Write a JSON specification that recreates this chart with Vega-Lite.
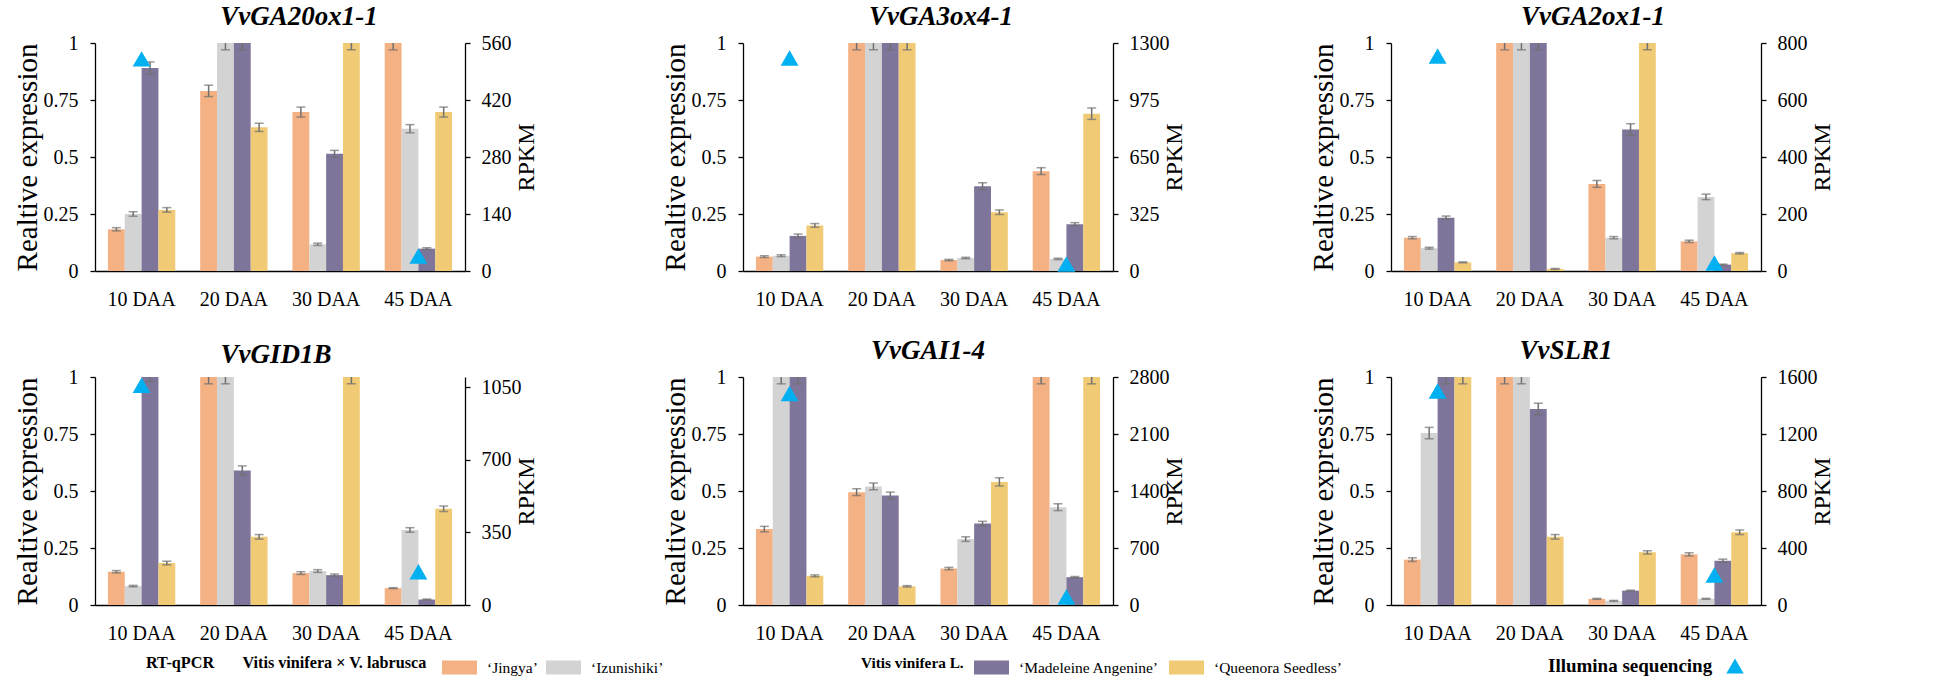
{
  "$schema": "https://vega.github.io/schema/vega-lite/v6.json",
  "padding": {"left": 13, "top": 3, "right": 5, "bottom": 5},
  "background": "white",
  "datasets": {
    "bars": [
      {"gene": "VvGA20ox1-1", "daa": "10 DAA", "cv": "‘Jingya’", "v": 0.183, "e": 0.007},
      {"gene": "VvGA20ox1-1", "daa": "10 DAA", "cv": "‘Izunishiki’", "v": 0.25, "e": 0.01},
      {"gene": "VvGA20ox1-1", "daa": "10 DAA", "cv": "‘Madeleine Angenine’", "v": 0.89, "e": 0.027},
      {"gene": "VvGA20ox1-1", "daa": "10 DAA", "cv": "‘Queenora Seedless’", "v": 0.268, "e": 0.01},
      {"gene": "VvGA20ox1-1", "daa": "20 DAA", "cv": "‘Jingya’", "v": 0.79, "e": 0.025},
      {"gene": "VvGA20ox1-1", "daa": "20 DAA", "cv": "‘Izunishiki’", "v": 1, "e": 0.03},
      {"gene": "VvGA20ox1-1", "daa": "20 DAA", "cv": "‘Madeleine Angenine’", "v": 1, "e": 0.03},
      {"gene": "VvGA20ox1-1", "daa": "20 DAA", "cv": "‘Queenora Seedless’", "v": 0.63, "e": 0.018},
      {"gene": "VvGA20ox1-1", "daa": "30 DAA", "cv": "‘Jingya’", "v": 0.697, "e": 0.022},
      {"gene": "VvGA20ox1-1", "daa": "30 DAA", "cv": "‘Izunishiki’", "v": 0.117, "e": 0.005},
      {"gene": "VvGA20ox1-1", "daa": "30 DAA", "cv": "‘Madeleine Angenine’", "v": 0.514, "e": 0.015},
      {"gene": "VvGA20ox1-1", "daa": "30 DAA", "cv": "‘Queenora Seedless’", "v": 1, "e": 0.03},
      {"gene": "VvGA20ox1-1", "daa": "45 DAA", "cv": "‘Jingya’", "v": 1, "e": 0.03},
      {"gene": "VvGA20ox1-1", "daa": "45 DAA", "cv": "‘Izunishiki’", "v": 0.624, "e": 0.018},
      {"gene": "VvGA20ox1-1", "daa": "45 DAA", "cv": "‘Madeleine Angenine’", "v": 0.098, "e": 0.004},
      {"gene": "VvGA20ox1-1", "daa": "45 DAA", "cv": "‘Queenora Seedless’", "v": 0.697, "e": 0.022},

      {"gene": "VvGA3ox4-1", "daa": "10 DAA", "cv": "‘Jingya’", "v": 0.063, "e": 0.004},
      {"gene": "VvGA3ox4-1", "daa": "10 DAA", "cv": "‘Izunishiki’", "v": 0.067, "e": 0.004},
      {"gene": "VvGA3ox4-1", "daa": "10 DAA", "cv": "‘Madeleine Angenine’", "v": 0.154, "e": 0.008},
      {"gene": "VvGA3ox4-1", "daa": "10 DAA", "cv": "‘Queenora Seedless’", "v": 0.2, "e": 0.008},
      {"gene": "VvGA3ox4-1", "daa": "20 DAA", "cv": "‘Jingya’", "v": 1, "e": 0.03},
      {"gene": "VvGA3ox4-1", "daa": "20 DAA", "cv": "‘Izunishiki’", "v": 1, "e": 0.03},
      {"gene": "VvGA3ox4-1", "daa": "20 DAA", "cv": "‘Madeleine Angenine’", "v": 1, "e": 0.03},
      {"gene": "VvGA3ox4-1", "daa": "20 DAA", "cv": "‘Queenora Seedless’", "v": 1, "e": 0.03},
      {"gene": "VvGA3ox4-1", "daa": "30 DAA", "cv": "‘Jingya’", "v": 0.048, "e": 0.003},
      {"gene": "VvGA3ox4-1", "daa": "30 DAA", "cv": "‘Izunishiki’", "v": 0.057, "e": 0.003},
      {"gene": "VvGA3ox4-1", "daa": "30 DAA", "cv": "‘Madeleine Angenine’", "v": 0.372, "e": 0.015},
      {"gene": "VvGA3ox4-1", "daa": "30 DAA", "cv": "‘Queenora Seedless’", "v": 0.258, "e": 0.01},
      {"gene": "VvGA3ox4-1", "daa": "45 DAA", "cv": "‘Jingya’", "v": 0.438, "e": 0.015},
      {"gene": "VvGA3ox4-1", "daa": "45 DAA", "cv": "‘Izunishiki’", "v": 0.053, "e": 0.003},
      {"gene": "VvGA3ox4-1", "daa": "45 DAA", "cv": "‘Madeleine Angenine’", "v": 0.205, "e": 0.007},
      {"gene": "VvGA3ox4-1", "daa": "45 DAA", "cv": "‘Queenora Seedless’", "v": 0.69, "e": 0.025},

      {"gene": "VvGA2ox1-1", "daa": "10 DAA", "cv": "‘Jingya’", "v": 0.146, "e": 0.005},
      {"gene": "VvGA2ox1-1", "daa": "10 DAA", "cv": "‘Izunishiki’", "v": 0.1, "e": 0.004},
      {"gene": "VvGA2ox1-1", "daa": "10 DAA", "cv": "‘Madeleine Angenine’", "v": 0.234, "e": 0.007},
      {"gene": "VvGA2ox1-1", "daa": "10 DAA", "cv": "‘Queenora Seedless’", "v": 0.038, "e": 0.002},
      {"gene": "VvGA2ox1-1", "daa": "20 DAA", "cv": "‘Jingya’", "v": 1, "e": 0.03},
      {"gene": "VvGA2ox1-1", "daa": "20 DAA", "cv": "‘Izunishiki’", "v": 1, "e": 0.03},
      {"gene": "VvGA2ox1-1", "daa": "20 DAA", "cv": "‘Madeleine Angenine’", "v": 1, "e": 0.03},
      {"gene": "VvGA2ox1-1", "daa": "20 DAA", "cv": "‘Queenora Seedless’", "v": 0.009, "e": 0.002},
      {"gene": "VvGA2ox1-1", "daa": "30 DAA", "cv": "‘Jingya’", "v": 0.382, "e": 0.015},
      {"gene": "VvGA2ox1-1", "daa": "30 DAA", "cv": "‘Izunishiki’", "v": 0.146, "e": 0.005},
      {"gene": "VvGA2ox1-1", "daa": "30 DAA", "cv": "‘Madeleine Angenine’", "v": 0.621, "e": 0.025},
      {"gene": "VvGA2ox1-1", "daa": "30 DAA", "cv": "‘Queenora Seedless’", "v": 1, "e": 0.03},
      {"gene": "VvGA2ox1-1", "daa": "45 DAA", "cv": "‘Jingya’", "v": 0.13, "e": 0.005},
      {"gene": "VvGA2ox1-1", "daa": "45 DAA", "cv": "‘Izunishiki’", "v": 0.325, "e": 0.012},
      {"gene": "VvGA2ox1-1", "daa": "45 DAA", "cv": "‘Madeleine Angenine’", "v": 0.028, "e": 0.002},
      {"gene": "VvGA2ox1-1", "daa": "45 DAA", "cv": "‘Queenora Seedless’", "v": 0.078, "e": 0.003},

      {"gene": "VvGID1B", "daa": "10 DAA", "cv": "‘Jingya’", "v": 0.146, "e": 0.005},
      {"gene": "VvGID1B", "daa": "10 DAA", "cv": "‘Izunishiki’", "v": 0.083, "e": 0.003},
      {"gene": "VvGID1B", "daa": "10 DAA", "cv": "‘Madeleine Angenine’", "v": 1, "e": 0.02},
      {"gene": "VvGID1B", "daa": "10 DAA", "cv": "‘Queenora Seedless’", "v": 0.184, "e": 0.008},
      {"gene": "VvGID1B", "daa": "20 DAA", "cv": "‘Jingya’", "v": 1, "e": 0.03},
      {"gene": "VvGID1B", "daa": "20 DAA", "cv": "‘Izunishiki’", "v": 1, "e": 0.03},
      {"gene": "VvGID1B", "daa": "20 DAA", "cv": "‘Madeleine Angenine’", "v": 0.59, "e": 0.02},
      {"gene": "VvGID1B", "daa": "20 DAA", "cv": "‘Queenora Seedless’", "v": 0.299, "e": 0.01},
      {"gene": "VvGID1B", "daa": "30 DAA", "cv": "‘Jingya’", "v": 0.14, "e": 0.006},
      {"gene": "VvGID1B", "daa": "30 DAA", "cv": "‘Izunishiki’", "v": 0.149, "e": 0.006},
      {"gene": "VvGID1B", "daa": "30 DAA", "cv": "‘Madeleine Angenine’", "v": 0.131, "e": 0.005},
      {"gene": "VvGID1B", "daa": "30 DAA", "cv": "‘Queenora Seedless’", "v": 1, "e": 0.03},
      {"gene": "VvGID1B", "daa": "45 DAA", "cv": "‘Jingya’", "v": 0.074, "e": 0.002},
      {"gene": "VvGID1B", "daa": "45 DAA", "cv": "‘Izunishiki’", "v": 0.329, "e": 0.01},
      {"gene": "VvGID1B", "daa": "45 DAA", "cv": "‘Madeleine Angenine’", "v": 0.024, "e": 0.002},
      {"gene": "VvGID1B", "daa": "45 DAA", "cv": "‘Queenora Seedless’", "v": 0.422, "e": 0.012},

      {"gene": "VvGAI1-4", "daa": "10 DAA", "cv": "‘Jingya’", "v": 0.333, "e": 0.012},
      {"gene": "VvGAI1-4", "daa": "10 DAA", "cv": "‘Izunishiki’", "v": 1, "e": 0.03},
      {"gene": "VvGAI1-4", "daa": "10 DAA", "cv": "‘Madeleine Angenine’", "v": 1, "e": 0.03},
      {"gene": "VvGAI1-4", "daa": "10 DAA", "cv": "‘Queenora Seedless’", "v": 0.128, "e": 0.004},
      {"gene": "VvGAI1-4", "daa": "20 DAA", "cv": "‘Jingya’", "v": 0.495, "e": 0.015},
      {"gene": "VvGAI1-4", "daa": "20 DAA", "cv": "‘Izunishiki’", "v": 0.52, "e": 0.015},
      {"gene": "VvGAI1-4", "daa": "20 DAA", "cv": "‘Madeleine Angenine’", "v": 0.48, "e": 0.015},
      {"gene": "VvGAI1-4", "daa": "20 DAA", "cv": "‘Queenora Seedless’", "v": 0.082, "e": 0.003},
      {"gene": "VvGAI1-4", "daa": "30 DAA", "cv": "‘Jingya’", "v": 0.16, "e": 0.005},
      {"gene": "VvGAI1-4", "daa": "30 DAA", "cv": "‘Izunishiki’", "v": 0.289, "e": 0.01},
      {"gene": "VvGAI1-4", "daa": "30 DAA", "cv": "‘Madeleine Angenine’", "v": 0.357, "e": 0.01},
      {"gene": "VvGAI1-4", "daa": "30 DAA", "cv": "‘Queenora Seedless’", "v": 0.54, "e": 0.018},
      {"gene": "VvGAI1-4", "daa": "45 DAA", "cv": "‘Jingya’", "v": 1, "e": 0.03},
      {"gene": "VvGAI1-4", "daa": "45 DAA", "cv": "‘Izunishiki’", "v": 0.429, "e": 0.015},
      {"gene": "VvGAI1-4", "daa": "45 DAA", "cv": "‘Madeleine Angenine’", "v": 0.122, "e": 0.003},
      {"gene": "VvGAI1-4", "daa": "45 DAA", "cv": "‘Queenora Seedless’", "v": 1, "e": 0.03},

      {"gene": "VvSLR1", "daa": "10 DAA", "cv": "‘Jingya’", "v": 0.199, "e": 0.008},
      {"gene": "VvSLR1", "daa": "10 DAA", "cv": "‘Izunishiki’", "v": 0.754, "e": 0.025},
      {"gene": "VvSLR1", "daa": "10 DAA", "cv": "‘Madeleine Angenine’", "v": 1, "e": 0.03},
      {"gene": "VvSLR1", "daa": "10 DAA", "cv": "‘Queenora Seedless’", "v": 1, "e": 0.03},
      {"gene": "VvSLR1", "daa": "20 DAA", "cv": "‘Jingya’", "v": 1, "e": 0.03},
      {"gene": "VvSLR1", "daa": "20 DAA", "cv": "‘Izunishiki’", "v": 1, "e": 0.03},
      {"gene": "VvSLR1", "daa": "20 DAA", "cv": "‘Madeleine Angenine’", "v": 0.86, "e": 0.025},
      {"gene": "VvSLR1", "daa": "20 DAA", "cv": "‘Queenora Seedless’", "v": 0.299, "e": 0.01},
      {"gene": "VvSLR1", "daa": "30 DAA", "cv": "‘Jingya’", "v": 0.027, "e": 0.002},
      {"gene": "VvSLR1", "daa": "30 DAA", "cv": "‘Izunishiki’", "v": 0.018, "e": 0.002},
      {"gene": "VvSLR1", "daa": "30 DAA", "cv": "‘Madeleine Angenine’", "v": 0.063, "e": 0.002},
      {"gene": "VvSLR1", "daa": "30 DAA", "cv": "‘Queenora Seedless’", "v": 0.231, "e": 0.007},
      {"gene": "VvSLR1", "daa": "45 DAA", "cv": "‘Jingya’", "v": 0.222, "e": 0.007},
      {"gene": "VvSLR1", "daa": "45 DAA", "cv": "‘Izunishiki’", "v": 0.027, "e": 0.002},
      {"gene": "VvSLR1", "daa": "45 DAA", "cv": "‘Madeleine Angenine’", "v": 0.194, "e": 0.007},
      {"gene": "VvSLR1", "daa": "45 DAA", "cv": "‘Queenora Seedless’", "v": 0.319, "e": 0.01}
    ],
    "tri": [
      {"gene": "VvGA20ox1-1", "daa": "10 DAA", "method": "Illumina sequencing", "rpkm": 521},
      {"gene": "VvGA20ox1-1", "daa": "45 DAA", "method": "Illumina sequencing", "rpkm": 37},
      {"gene": "VvGA3ox4-1", "daa": "10 DAA", "method": "Illumina sequencing", "rpkm": 1214},
      {"gene": "VvGA3ox4-1", "daa": "45 DAA", "method": "Illumina sequencing", "rpkm": 40},
      {"gene": "VvGA2ox1-1", "daa": "10 DAA", "method": "Illumina sequencing", "rpkm": 754},
      {"gene": "VvGA2ox1-1", "daa": "45 DAA", "method": "Illumina sequencing", "rpkm": 28},
      {"gene": "VvGID1B", "daa": "10 DAA", "method": "Illumina sequencing", "rpkm": 1060},
      {"gene": "VvGID1B", "daa": "45 DAA", "method": "Illumina sequencing", "rpkm": 160},
      {"gene": "VvGAI1-4", "daa": "10 DAA", "method": "Illumina sequencing", "rpkm": 2596},
      {"gene": "VvGAI1-4", "daa": "45 DAA", "method": "Illumina sequencing", "rpkm": 99},
      {"gene": "VvSLR1", "daa": "10 DAA", "method": "Illumina sequencing", "rpkm": 1501},
      {"gene": "VvSLR1", "daa": "45 DAA", "method": "Illumina sequencing", "rpkm": 211}
    ]
  },
  "columns": 3,
  "spacing": {"row": 106, "column": 278},
  "bounds": "flush",
  "concat": [
    {
      "width": 370, "height": 228,
      "title": {"text": "VvGA20ox1-1", "dx": 19},
      "layer": [
        {
          "data": {"name": "bars"},
          "transform": [{"filter": {"field": "gene", "equal": "VvGA20ox1-1"}}],
          "encoding": {
            "x": {"field": "daa", "type": "nominal", "sort": null, "scale": {"domain": ["10 DAA", "20 DAA", "30 DAA", "45 DAA"], "paddingInner": 0.27, "paddingOuter": 0.14}, "axis": {"title": null, "labelAngle": 0, "ticks": false, "tickSize": 0, "labelPadding": 18}},
            "xOffset": {"field": "cv", "type": "nominal", "scale": {"domain": ["‘Jingya’", "‘Izunishiki’", "‘Madeleine Angenine’", "‘Queenora Seedless’"], "paddingInner": 0, "paddingOuter": 0}},
            "y": {"field": "v", "type": "quantitative", "scale": {"domain": [0, 1], "nice": false}, "axis": {"title": "Realtive expression", "values": [0, 0.25, 0.5, 0.75, 1], "labelExpr": "'' + datum.value", "tickSize": 5, "labelPadding": 12, "titleFontSize": 29, "titlePadding": 1}}
          },
          "layer": [
            {"transform": [{"filter": {"field": "cv", "oneOf": ["‘Jingya’", "‘Izunishiki’"]}}], "mark": {"type": "bar"},
             "encoding": {"fill": {"field": "cv", "type": "nominal", "scale": {"domain": ["‘Jingya’", "‘Izunishiki’"], "range": ["#f4b183", "#d3d3d3"]},
               "legend": {"orient": "none", "legendX": 51, "legendY": 607, "direction": "horizontal", "title": "RT-qPCR\u00a0\u00a0\u00a0\u00a0\u00a0\u00a0\u00a0Vitis vinifera × V. labrusca", "titleOrient": "left", "titleAnchor": "middle", "titleBaseline": "middle", "titleFontSize": 16.2, "titlePadding": 15, "titleLimit": 600, "symbolType": "M-1,-0.4H1V0.4H-1Z", "symbolSize": 1225, "symbolStrokeWidth": 0, "labelOffset": 10, "columnPadding": 8}}}},
            {"transform": [{"filter": {"field": "cv", "oneOf": ["‘Madeleine Angenine’", "‘Queenora Seedless’"]}}], "mark": {"type": "bar"},
             "encoding": {"color": {"field": "cv", "type": "nominal", "scale": {"domain": ["‘Madeleine Angenine’", "‘Queenora Seedless’"], "range": ["#7f7499", "#f0ca74"]},
               "legend": {"orient": "none", "legendX": 766, "legendY": 607, "direction": "horizontal", "title": "Vitis vinifera L.", "titleOrient": "left", "titleAnchor": "middle", "titleBaseline": "middle", "titleFontSize": 15.3, "titlePadding": 10, "titleLimit": 600, "symbolType": "M-1,-0.4H1V0.4H-1Z", "symbolSize": 1225, "symbolStrokeWidth": 0, "labelOffset": 10, "columnPadding": 10}}}},
            {"mark": {"type": "errorbar", "color": "#707070", "ticks": true, "size": 9, "thickness": 1.5, "clip": true}, "encoding": {"yError": {"field": "e"}}}
          ]
        },
        {
          "data": {"name": "tri"},
          "transform": [{"filter": {"field": "gene", "equal": "VvGA20ox1-1"}}],
          "mark": {"type": "point", "filled": true, "color": "#00b0f0", "opacity": 1, "size": 320},
          "encoding": {
            "x": {"field": "daa", "type": "nominal", "sort": null, "scale": {"domain": ["10 DAA", "20 DAA", "30 DAA", "45 DAA"], "paddingInner": 0.27, "paddingOuter": 0.14}},
            "y": {"field": "rpkm", "type": "quantitative", "scale": {"domain": [0, 560], "nice": false}, "axis": {"orient": "right", "title": "RPKM", "values": [0, 140, 280, 420, 560], "format": "d", "tickSize": 5, "labelPadding": 11, "titleFontSize": 24, "titleAngle": 270, "titleBaseline": "top", "titleX": 49}},
            "shape": {"field": "method", "type": "nominal", "scale": {"domain": ["Illumina sequencing"], "range": ["triangle-up"]},
              "legend": {"orient": "none", "legendX": 1453, "legendY": 614, "direction": "horizontal", "title": "Illumina sequencing", "titleOrient": "left", "titleAnchor": "middle", "titleBaseline": "middle", "titleFontSize": 19, "titlePadding": 13, "titleLimit": 600, "symbolSize": 300, "symbolFillColor": "#00b0f0", "symbolStrokeWidth": 0, "labelExpr": "''"}}
          }
        }
      ],
      "resolve": {"scale": {"y": "independent"}}
    },
    {
      "width": 370, "height": 228,
      "title": {"text": "VvGA3ox4-1", "dx": 13},
      "layer": [
        {
          "data": {"name": "bars"},
          "transform": [{"filter": {"field": "gene", "equal": "VvGA3ox4-1"}}],
          "encoding": {
            "x": {"field": "daa", "type": "nominal", "sort": null, "scale": {"domain": ["10 DAA", "20 DAA", "30 DAA", "45 DAA"], "paddingInner": 0.27, "paddingOuter": 0.14}, "axis": {"title": null, "labelAngle": 0, "ticks": false, "tickSize": 0, "labelPadding": 18}},
            "xOffset": {"field": "cv", "type": "nominal", "scale": {"domain": ["‘Jingya’", "‘Izunishiki’", "‘Madeleine Angenine’", "‘Queenora Seedless’"], "paddingInner": 0, "paddingOuter": 0}},
            "y": {"field": "v", "type": "quantitative", "scale": {"domain": [0, 1], "nice": false}, "axis": {"title": "Realtive expression", "values": [0, 0.25, 0.5, 0.75, 1], "labelExpr": "'' + datum.value", "tickSize": 5, "labelPadding": 12, "titleFontSize": 29, "titlePadding": 1}}
          },
          "layer": [
            {"transform": [{"filter": {"field": "cv", "oneOf": ["‘Jingya’", "‘Izunishiki’"]}}], "mark": {"type": "bar"},
             "encoding": {"fill": {"field": "cv", "type": "nominal", "scale": {"domain": ["‘Jingya’", "‘Izunishiki’"], "range": ["#f4b183", "#d3d3d3"]},
               "legend": {"orient": "none", "legendX": 51, "legendY": 607, "direction": "horizontal", "title": "RT-qPCR\u00a0\u00a0\u00a0\u00a0\u00a0\u00a0\u00a0Vitis vinifera × V. labrusca", "titleOrient": "left", "titleAnchor": "middle", "titleBaseline": "middle", "titleFontSize": 16.2, "titlePadding": 15, "titleLimit": 600, "symbolType": "M-1,-0.4H1V0.4H-1Z", "symbolSize": 1225, "symbolStrokeWidth": 0, "labelOffset": 10, "columnPadding": 8}}}},
            {"transform": [{"filter": {"field": "cv", "oneOf": ["‘Madeleine Angenine’", "‘Queenora Seedless’"]}}], "mark": {"type": "bar"},
             "encoding": {"color": {"field": "cv", "type": "nominal", "scale": {"domain": ["‘Madeleine Angenine’", "‘Queenora Seedless’"], "range": ["#7f7499", "#f0ca74"]},
               "legend": {"orient": "none", "legendX": 766, "legendY": 607, "direction": "horizontal", "title": "Vitis vinifera L.", "titleOrient": "left", "titleAnchor": "middle", "titleBaseline": "middle", "titleFontSize": 15.3, "titlePadding": 10, "titleLimit": 600, "symbolType": "M-1,-0.4H1V0.4H-1Z", "symbolSize": 1225, "symbolStrokeWidth": 0, "labelOffset": 10, "columnPadding": 10}}}},
            {"mark": {"type": "errorbar", "color": "#707070", "ticks": true, "size": 9, "thickness": 1.5, "clip": true}, "encoding": {"yError": {"field": "e"}}}
          ]
        },
        {
          "data": {"name": "tri"},
          "transform": [{"filter": {"field": "gene", "equal": "VvGA3ox4-1"}}],
          "mark": {"type": "point", "filled": true, "color": "#00b0f0", "opacity": 1, "size": 320},
          "encoding": {
            "x": {"field": "daa", "type": "nominal", "sort": null, "scale": {"domain": ["10 DAA", "20 DAA", "30 DAA", "45 DAA"], "paddingInner": 0.27, "paddingOuter": 0.14}},
            "y": {"field": "rpkm", "type": "quantitative", "scale": {"domain": [0, 1300], "nice": false}, "axis": {"orient": "right", "title": "RPKM", "values": [0, 325, 650, 975, 1300], "format": "d", "tickSize": 5, "labelPadding": 11, "titleFontSize": 24, "titleAngle": 270, "titleBaseline": "top", "titleX": 49}},
            "shape": {"field": "method", "type": "nominal", "scale": {"domain": ["Illumina sequencing"], "range": ["triangle-up"]},
              "legend": {"orient": "none", "legendX": 1453, "legendY": 614, "direction": "horizontal", "title": "Illumina sequencing", "titleOrient": "left", "titleAnchor": "middle", "titleBaseline": "middle", "titleFontSize": 19, "titlePadding": 13, "titleLimit": 600, "symbolSize": 300, "symbolFillColor": "#00b0f0", "symbolStrokeWidth": 0, "labelExpr": "''"}}
          }
        }
      ],
      "resolve": {"scale": {"y": "independent"}}
    },
    {
      "width": 370, "height": 228,
      "title": {"text": "VvGA2ox1-1", "dx": 17},
      "layer": [
        {
          "data": {"name": "bars"},
          "transform": [{"filter": {"field": "gene", "equal": "VvGA2ox1-1"}}],
          "encoding": {
            "x": {"field": "daa", "type": "nominal", "sort": null, "scale": {"domain": ["10 DAA", "20 DAA", "30 DAA", "45 DAA"], "paddingInner": 0.27, "paddingOuter": 0.14}, "axis": {"title": null, "labelAngle": 0, "ticks": false, "tickSize": 0, "labelPadding": 18}},
            "xOffset": {"field": "cv", "type": "nominal", "scale": {"domain": ["‘Jingya’", "‘Izunishiki’", "‘Madeleine Angenine’", "‘Queenora Seedless’"], "paddingInner": 0, "paddingOuter": 0}},
            "y": {"field": "v", "type": "quantitative", "scale": {"domain": [0, 1], "nice": false}, "axis": {"title": "Realtive expression", "values": [0, 0.25, 0.5, 0.75, 1], "labelExpr": "'' + datum.value", "tickSize": 5, "labelPadding": 12, "titleFontSize": 29, "titlePadding": 1}}
          },
          "layer": [
            {"transform": [{"filter": {"field": "cv", "oneOf": ["‘Jingya’", "‘Izunishiki’"]}}], "mark": {"type": "bar"},
             "encoding": {"fill": {"field": "cv", "type": "nominal", "scale": {"domain": ["‘Jingya’", "‘Izunishiki’"], "range": ["#f4b183", "#d3d3d3"]},
               "legend": {"orient": "none", "legendX": 51, "legendY": 607, "direction": "horizontal", "title": "RT-qPCR\u00a0\u00a0\u00a0\u00a0\u00a0\u00a0\u00a0Vitis vinifera × V. labrusca", "titleOrient": "left", "titleAnchor": "middle", "titleBaseline": "middle", "titleFontSize": 16.2, "titlePadding": 15, "titleLimit": 600, "symbolType": "M-1,-0.4H1V0.4H-1Z", "symbolSize": 1225, "symbolStrokeWidth": 0, "labelOffset": 10, "columnPadding": 8}}}},
            {"transform": [{"filter": {"field": "cv", "oneOf": ["‘Madeleine Angenine’", "‘Queenora Seedless’"]}}], "mark": {"type": "bar"},
             "encoding": {"color": {"field": "cv", "type": "nominal", "scale": {"domain": ["‘Madeleine Angenine’", "‘Queenora Seedless’"], "range": ["#7f7499", "#f0ca74"]},
               "legend": {"orient": "none", "legendX": 766, "legendY": 607, "direction": "horizontal", "title": "Vitis vinifera L.", "titleOrient": "left", "titleAnchor": "middle", "titleBaseline": "middle", "titleFontSize": 15.3, "titlePadding": 10, "titleLimit": 600, "symbolType": "M-1,-0.4H1V0.4H-1Z", "symbolSize": 1225, "symbolStrokeWidth": 0, "labelOffset": 10, "columnPadding": 10}}}},
            {"mark": {"type": "errorbar", "color": "#707070", "ticks": true, "size": 9, "thickness": 1.5, "clip": true}, "encoding": {"yError": {"field": "e"}}}
          ]
        },
        {
          "data": {"name": "tri"},
          "transform": [{"filter": {"field": "gene", "equal": "VvGA2ox1-1"}}],
          "mark": {"type": "point", "filled": true, "color": "#00b0f0", "opacity": 1, "size": 320},
          "encoding": {
            "x": {"field": "daa", "type": "nominal", "sort": null, "scale": {"domain": ["10 DAA", "20 DAA", "30 DAA", "45 DAA"], "paddingInner": 0.27, "paddingOuter": 0.14}},
            "y": {"field": "rpkm", "type": "quantitative", "scale": {"domain": [0, 800], "nice": false}, "axis": {"orient": "right", "title": "RPKM", "values": [0, 200, 400, 600, 800], "format": "d", "tickSize": 5, "labelPadding": 11, "titleFontSize": 24, "titleAngle": 270, "titleBaseline": "top", "titleX": 49}},
            "shape": {"field": "method", "type": "nominal", "scale": {"domain": ["Illumina sequencing"], "range": ["triangle-up"]},
              "legend": {"orient": "none", "legendX": 1453, "legendY": 614, "direction": "horizontal", "title": "Illumina sequencing", "titleOrient": "left", "titleAnchor": "middle", "titleBaseline": "middle", "titleFontSize": 19, "titlePadding": 13, "titleLimit": 600, "symbolSize": 300, "symbolFillColor": "#00b0f0", "symbolStrokeWidth": 0, "labelExpr": "''"}}
          }
        }
      ],
      "resolve": {"scale": {"y": "independent"}}
    },
    {
      "width": 370, "height": 228,
      "title": {"text": "VvGID1B", "dx": -4, "dy": 4},
      "layer": [
        {
          "data": {"name": "bars"},
          "transform": [{"filter": {"field": "gene", "equal": "VvGID1B"}}],
          "encoding": {
            "x": {"field": "daa", "type": "nominal", "sort": null, "scale": {"domain": ["10 DAA", "20 DAA", "30 DAA", "45 DAA"], "paddingInner": 0.27, "paddingOuter": 0.14}, "axis": {"title": null, "labelAngle": 0, "ticks": false, "tickSize": 0, "labelPadding": 18}},
            "xOffset": {"field": "cv", "type": "nominal", "scale": {"domain": ["‘Jingya’", "‘Izunishiki’", "‘Madeleine Angenine’", "‘Queenora Seedless’"], "paddingInner": 0, "paddingOuter": 0}},
            "y": {"field": "v", "type": "quantitative", "scale": {"domain": [0, 1], "nice": false}, "axis": {"title": "Realtive expression", "values": [0, 0.25, 0.5, 0.75, 1], "labelExpr": "'' + datum.value", "tickSize": 5, "labelPadding": 12, "titleFontSize": 29, "titlePadding": 1}}
          },
          "layer": [
            {"transform": [{"filter": {"field": "cv", "oneOf": ["‘Jingya’", "‘Izunishiki’"]}}], "mark": {"type": "bar"},
             "encoding": {"fill": {"field": "cv", "type": "nominal", "scale": {"domain": ["‘Jingya’", "‘Izunishiki’"], "range": ["#f4b183", "#d3d3d3"]},
               "legend": {"orient": "none", "legendX": 51, "legendY": 607, "direction": "horizontal", "title": "RT-qPCR\u00a0\u00a0\u00a0\u00a0\u00a0\u00a0\u00a0Vitis vinifera × V. labrusca", "titleOrient": "left", "titleAnchor": "middle", "titleBaseline": "middle", "titleFontSize": 16.2, "titlePadding": 15, "titleLimit": 600, "symbolType": "M-1,-0.4H1V0.4H-1Z", "symbolSize": 1225, "symbolStrokeWidth": 0, "labelOffset": 10, "columnPadding": 8}}}},
            {"transform": [{"filter": {"field": "cv", "oneOf": ["‘Madeleine Angenine’", "‘Queenora Seedless’"]}}], "mark": {"type": "bar"},
             "encoding": {"color": {"field": "cv", "type": "nominal", "scale": {"domain": ["‘Madeleine Angenine’", "‘Queenora Seedless’"], "range": ["#7f7499", "#f0ca74"]},
               "legend": {"orient": "none", "legendX": 766, "legendY": 607, "direction": "horizontal", "title": "Vitis vinifera L.", "titleOrient": "left", "titleAnchor": "middle", "titleBaseline": "middle", "titleFontSize": 15.3, "titlePadding": 10, "titleLimit": 600, "symbolType": "M-1,-0.4H1V0.4H-1Z", "symbolSize": 1225, "symbolStrokeWidth": 0, "labelOffset": 10, "columnPadding": 10}}}},
            {"mark": {"type": "errorbar", "color": "#707070", "ticks": true, "size": 9, "thickness": 1.5, "clip": true}, "encoding": {"yError": {"field": "e"}}}
          ]
        },
        {
          "data": {"name": "tri"},
          "transform": [{"filter": {"field": "gene", "equal": "VvGID1B"}}],
          "mark": {"type": "point", "filled": true, "color": "#00b0f0", "opacity": 1, "size": 320},
          "encoding": {
            "x": {"field": "daa", "type": "nominal", "sort": null, "scale": {"domain": ["10 DAA", "20 DAA", "30 DAA", "45 DAA"], "paddingInner": 0.27, "paddingOuter": 0.14}},
            "y": {"field": "rpkm", "type": "quantitative", "scale": {"domain": [0, 1100], "nice": false}, "axis": {"orient": "right", "title": "RPKM", "values": [0, 350, 700, 1050], "format": "d", "tickSize": 5, "labelPadding": 11, "titleFontSize": 24, "titleAngle": 270, "titleBaseline": "top", "titleX": 49}},
            "shape": {"field": "method", "type": "nominal", "scale": {"domain": ["Illumina sequencing"], "range": ["triangle-up"]},
              "legend": {"orient": "none", "legendX": 1453, "legendY": 614, "direction": "horizontal", "title": "Illumina sequencing", "titleOrient": "left", "titleAnchor": "middle", "titleBaseline": "middle", "titleFontSize": 19, "titlePadding": 13, "titleLimit": 600, "symbolSize": 300, "symbolFillColor": "#00b0f0", "symbolStrokeWidth": 0, "labelExpr": "''"}}
          }
        }
      ],
      "resolve": {"scale": {"y": "independent"}}
    },
    {
      "width": 370, "height": 228,
      "title": {"text": "VvGAI1-4", "dx": 0},
      "layer": [
        {
          "data": {"name": "bars"},
          "transform": [{"filter": {"field": "gene", "equal": "VvGAI1-4"}}],
          "encoding": {
            "x": {"field": "daa", "type": "nominal", "sort": null, "scale": {"domain": ["10 DAA", "20 DAA", "30 DAA", "45 DAA"], "paddingInner": 0.27, "paddingOuter": 0.14}, "axis": {"title": null, "labelAngle": 0, "ticks": false, "tickSize": 0, "labelPadding": 18}},
            "xOffset": {"field": "cv", "type": "nominal", "scale": {"domain": ["‘Jingya’", "‘Izunishiki’", "‘Madeleine Angenine’", "‘Queenora Seedless’"], "paddingInner": 0, "paddingOuter": 0}},
            "y": {"field": "v", "type": "quantitative", "scale": {"domain": [0, 1], "nice": false}, "axis": {"title": "Realtive expression", "values": [0, 0.25, 0.5, 0.75, 1], "labelExpr": "'' + datum.value", "tickSize": 5, "labelPadding": 12, "titleFontSize": 29, "titlePadding": 1}}
          },
          "layer": [
            {"transform": [{"filter": {"field": "cv", "oneOf": ["‘Jingya’", "‘Izunishiki’"]}}], "mark": {"type": "bar"},
             "encoding": {"fill": {"field": "cv", "type": "nominal", "scale": {"domain": ["‘Jingya’", "‘Izunishiki’"], "range": ["#f4b183", "#d3d3d3"]},
               "legend": {"orient": "none", "legendX": 51, "legendY": 607, "direction": "horizontal", "title": "RT-qPCR\u00a0\u00a0\u00a0\u00a0\u00a0\u00a0\u00a0Vitis vinifera × V. labrusca", "titleOrient": "left", "titleAnchor": "middle", "titleBaseline": "middle", "titleFontSize": 16.2, "titlePadding": 15, "titleLimit": 600, "symbolType": "M-1,-0.4H1V0.4H-1Z", "symbolSize": 1225, "symbolStrokeWidth": 0, "labelOffset": 10, "columnPadding": 8}}}},
            {"transform": [{"filter": {"field": "cv", "oneOf": ["‘Madeleine Angenine’", "‘Queenora Seedless’"]}}], "mark": {"type": "bar"},
             "encoding": {"color": {"field": "cv", "type": "nominal", "scale": {"domain": ["‘Madeleine Angenine’", "‘Queenora Seedless’"], "range": ["#7f7499", "#f0ca74"]},
               "legend": {"orient": "none", "legendX": 766, "legendY": 607, "direction": "horizontal", "title": "Vitis vinifera L.", "titleOrient": "left", "titleAnchor": "middle", "titleBaseline": "middle", "titleFontSize": 15.3, "titlePadding": 10, "titleLimit": 600, "symbolType": "M-1,-0.4H1V0.4H-1Z", "symbolSize": 1225, "symbolStrokeWidth": 0, "labelOffset": 10, "columnPadding": 10}}}},
            {"mark": {"type": "errorbar", "color": "#707070", "ticks": true, "size": 9, "thickness": 1.5, "clip": true}, "encoding": {"yError": {"field": "e"}}}
          ]
        },
        {
          "data": {"name": "tri"},
          "transform": [{"filter": {"field": "gene", "equal": "VvGAI1-4"}}],
          "mark": {"type": "point", "filled": true, "color": "#00b0f0", "opacity": 1, "size": 320},
          "encoding": {
            "x": {"field": "daa", "type": "nominal", "sort": null, "scale": {"domain": ["10 DAA", "20 DAA", "30 DAA", "45 DAA"], "paddingInner": 0.27, "paddingOuter": 0.14}},
            "y": {"field": "rpkm", "type": "quantitative", "scale": {"domain": [0, 2800], "nice": false}, "axis": {"orient": "right", "title": "RPKM", "values": [0, 700, 1400, 2100, 2800], "format": "d", "tickSize": 5, "labelPadding": 11, "titleFontSize": 24, "titleAngle": 270, "titleBaseline": "top", "titleX": 49}},
            "shape": {"field": "method", "type": "nominal", "scale": {"domain": ["Illumina sequencing"], "range": ["triangle-up"]},
              "legend": {"orient": "none", "legendX": 1453, "legendY": 614, "direction": "horizontal", "title": "Illumina sequencing", "titleOrient": "left", "titleAnchor": "middle", "titleBaseline": "middle", "titleFontSize": 19, "titlePadding": 13, "titleLimit": 600, "symbolSize": 300, "symbolFillColor": "#00b0f0", "symbolStrokeWidth": 0, "labelExpr": "''"}}
          }
        }
      ],
      "resolve": {"scale": {"y": "independent"}}
    },
    {
      "width": 370, "height": 228,
      "title": {"text": "VvSLR1", "dx": -10},
      "layer": [
        {
          "data": {"name": "bars"},
          "transform": [{"filter": {"field": "gene", "equal": "VvSLR1"}}],
          "encoding": {
            "x": {"field": "daa", "type": "nominal", "sort": null, "scale": {"domain": ["10 DAA", "20 DAA", "30 DAA", "45 DAA"], "paddingInner": 0.27, "paddingOuter": 0.14}, "axis": {"title": null, "labelAngle": 0, "ticks": false, "tickSize": 0, "labelPadding": 18}},
            "xOffset": {"field": "cv", "type": "nominal", "scale": {"domain": ["‘Jingya’", "‘Izunishiki’", "‘Madeleine Angenine’", "‘Queenora Seedless’"], "paddingInner": 0, "paddingOuter": 0}},
            "y": {"field": "v", "type": "quantitative", "scale": {"domain": [0, 1], "nice": false}, "axis": {"title": "Realtive expression", "values": [0, 0.25, 0.5, 0.75, 1], "labelExpr": "'' + datum.value", "tickSize": 5, "labelPadding": 12, "titleFontSize": 29, "titlePadding": 1}}
          },
          "layer": [
            {"transform": [{"filter": {"field": "cv", "oneOf": ["‘Jingya’", "‘Izunishiki’"]}}], "mark": {"type": "bar"},
             "encoding": {"fill": {"field": "cv", "type": "nominal", "scale": {"domain": ["‘Jingya’", "‘Izunishiki’"], "range": ["#f4b183", "#d3d3d3"]},
               "legend": {"orient": "none", "legendX": 51, "legendY": 607, "direction": "horizontal", "title": "RT-qPCR\u00a0\u00a0\u00a0\u00a0\u00a0\u00a0\u00a0Vitis vinifera × V. labrusca", "titleOrient": "left", "titleAnchor": "middle", "titleBaseline": "middle", "titleFontSize": 16.2, "titlePadding": 15, "titleLimit": 600, "symbolType": "M-1,-0.4H1V0.4H-1Z", "symbolSize": 1225, "symbolStrokeWidth": 0, "labelOffset": 10, "columnPadding": 8}}}},
            {"transform": [{"filter": {"field": "cv", "oneOf": ["‘Madeleine Angenine’", "‘Queenora Seedless’"]}}], "mark": {"type": "bar"},
             "encoding": {"color": {"field": "cv", "type": "nominal", "scale": {"domain": ["‘Madeleine Angenine’", "‘Queenora Seedless’"], "range": ["#7f7499", "#f0ca74"]},
               "legend": {"orient": "none", "legendX": 766, "legendY": 607, "direction": "horizontal", "title": "Vitis vinifera L.", "titleOrient": "left", "titleAnchor": "middle", "titleBaseline": "middle", "titleFontSize": 15.3, "titlePadding": 10, "titleLimit": 600, "symbolType": "M-1,-0.4H1V0.4H-1Z", "symbolSize": 1225, "symbolStrokeWidth": 0, "labelOffset": 10, "columnPadding": 10}}}},
            {"mark": {"type": "errorbar", "color": "#707070", "ticks": true, "size": 9, "thickness": 1.5, "clip": true}, "encoding": {"yError": {"field": "e"}}}
          ]
        },
        {
          "data": {"name": "tri"},
          "transform": [{"filter": {"field": "gene", "equal": "VvSLR1"}}],
          "mark": {"type": "point", "filled": true, "color": "#00b0f0", "opacity": 1, "size": 320},
          "encoding": {
            "x": {"field": "daa", "type": "nominal", "sort": null, "scale": {"domain": ["10 DAA", "20 DAA", "30 DAA", "45 DAA"], "paddingInner": 0.27, "paddingOuter": 0.14}},
            "y": {"field": "rpkm", "type": "quantitative", "scale": {"domain": [0, 1600], "nice": false}, "axis": {"orient": "right", "title": "RPKM", "values": [0, 400, 800, 1200, 1600], "format": "d", "tickSize": 5, "labelPadding": 11, "titleFontSize": 24, "titleAngle": 270, "titleBaseline": "top", "titleX": 49}},
            "shape": {"field": "method", "type": "nominal", "scale": {"domain": ["Illumina sequencing"], "range": ["triangle-up"]},
              "legend": {"orient": "none", "legendX": 1453, "legendY": 614, "direction": "horizontal", "title": "Illumina sequencing", "titleOrient": "left", "titleAnchor": "middle", "titleBaseline": "middle", "titleFontSize": 19, "titlePadding": 13, "titleLimit": 600, "symbolSize": 300, "symbolFillColor": "#00b0f0", "symbolStrokeWidth": 0, "labelExpr": "''"}}
          }
        }
      ],
      "resolve": {"scale": {"y": "independent"}}
    }
  ],
  "config": {
    "font": "Liberation Serif",
    "view": {"stroke": null},
    "axis": {"grid": false, "domainColor": "#000000", "domainWidth": 1.3, "tickColor": "#000000", "tickWidth": 1.3, "labelFont": "Liberation Serif", "labelFontSize": 20, "labelColor": "#000000", "titleFont": "Liberation Serif", "titleFontWeight": "normal", "titleColor": "#000000"},
    "legend": {"labelFont": "Liberation Serif", "labelFontSize": 15.5, "labelColor": "#000000", "titleFont": "Liberation Serif", "titleFontSize": 15.5, "titleFontWeight": "bold", "titleColor": "#000000"},
    "title": {"font": "Liberation Serif", "fontSize": 27, "fontWeight": "bold", "fontStyle": "italic", "color": "#000000", "frame": "group", "offset": 2}
  }
}
